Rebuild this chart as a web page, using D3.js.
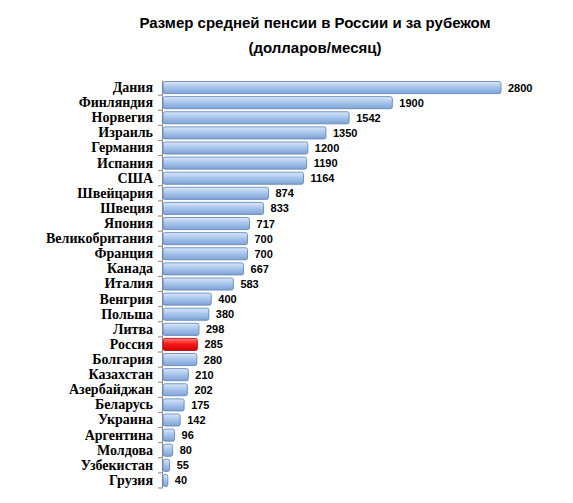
<!DOCTYPE html>
<html><head><meta charset="utf-8">
<script src="https://cdn.jsdelivr.net/npm/d3@7"></script>
<style>body{margin:0;background:#fff}</style>
</head><body><div id="main"></div>
<script>
// countries and average pension, USD per month
var countries = ["Дания","Финляндия","Норвегия","Израиль","Германия","Испания","США","Швейцария","Швеция","Япония","Великобритания","Франция","Канада","Италия","Венгрия","Польша","Литва","Россия","Болгария","Казахстан","Азербайджан","Беларусь","Украина","Аргентина","Молдова","Узбекистан","Грузия"],
	pensions = [2800,1900,1542,1350,1200,1190,1164,874,833,717,700,700,667,583,400,380,298,285,280,210,202,175,142,96,80,55,40],
	titleLines = ["Размер средней пенсии в России и за рубежом","(долларов/месяц)"];

var winWidth = 573, winHeight = 503,
	x0 = 162, x1 = 500,
	yTop = 80, yBot = 488;

var svg = d3.select('#main').append('svg')
	.attr("width", winWidth).attr("height", winHeight);

var defs = svg.append("defs");
function grad(id, c1, c2, c3) {
	var g = defs.append("linearGradient").attr("id", id)
		.attr("x1", 0).attr("y1", 0).attr("x2", 0).attr("y2", 1);
	g.append("stop").attr("offset", "0%").attr("stop-color", c1);
	g.append("stop").attr("offset", "45%").attr("stop-color", c2);
	g.append("stop").attr("offset", "100%").attr("stop-color", c3);
}
grad("blue", "#dbe8f8", "#a9c6ec", "#7fa3d6");
grad("red", "#ff8080", "#ff1a1a", "#d00000");

var x = d3.scaleLinear().domain([0, 2800]).range([x0, x1]);
var y = d3.scaleBand().domain(countries).range([yTop, yBot]).paddingInner(0.2).paddingOuter(0.1);

svg.selectAll("text.title").data(titleLines).enter().append("text")
	.attr("x", 315).attr("y", function(d, i) { return 28 + i * 25; })
	.attr("text-anchor", "middle")
	.style("font", "bold 15px 'Liberation Sans', Arial, sans-serif")
	.text(function(d) { return d; });

svg.append("g").attr("transform", "translate(" + x0 + ",0)")
	.call(d3.axisLeft(y).tickSize(4).tickPadding(5).tickSizeOuter(0))
	.call(function(g) {
		g.select(".domain").attr("stroke", "#888");
		g.selectAll(".tick line").attr("stroke", "#888")
			.attr("transform", "translate(0," + (y.step() / 2) + ")");
		g.selectAll(".tick text")
			.style("font", "bold 14px 'Liberation Serif', 'Times New Roman', serif")
			.attr("fill", "#000");
	});

svg.selectAll("rect.bar").data(pensions).enter().append("rect")
	.attr("x", x0 + 1)
	.attr("y", function(d, i) { return y(countries[i]); })
	.attr("width", function(d) { return x(d) - x0; })
	.attr("height", y.bandwidth())
	.attr("rx", 2)
	.attr("fill", function(d, i) { return countries[i] === "Россия" ? "url(#red)" : "url(#blue)"; })
	.attr("stroke", function(d, i) { return countries[i] === "Россия" ? "#b00000" : "#5a7fb5"; })
	.attr("stroke-width", 0.8);

svg.selectAll("text.val").data(pensions).enter().append("text")
	.attr("x", function(d) { return x(d) + 8; })
	.attr("y", function(d, i) { return y(countries[i]) + y.bandwidth() / 2 + 4; })
	.style("font", "bold 11px 'Liberation Sans', Arial, sans-serif")
	.text(function(d) { return d; });
</script>
</body></html>
